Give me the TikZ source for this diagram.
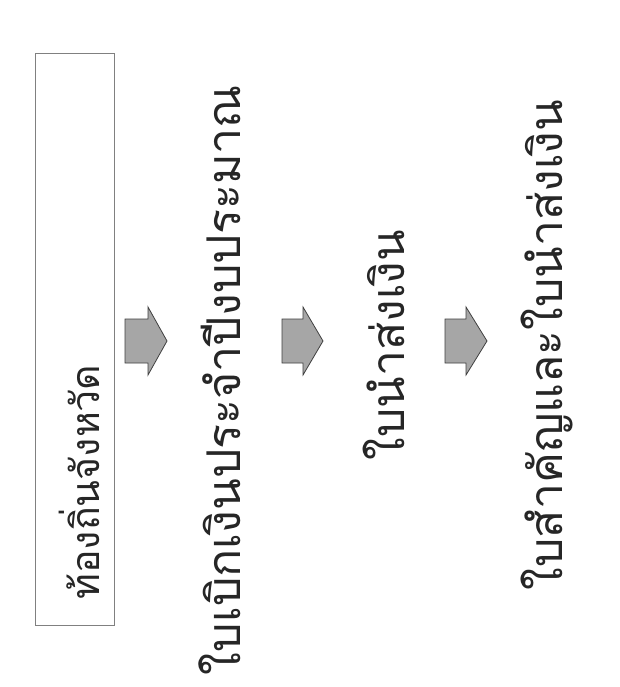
\documentclass[tikz,border=0pt]{standalone}
\usepackage{fontspec}
\newfontfamily\thaifont[Script=Thai]{Loma}
\newlength\thaiw
\newcommand{\fitthai}[2]{%
  \settowidth{\thaiw}{\thaifont\fontsize{10}{12}\selectfont #2}%
  \pgfmathsetmacro{\thaisz}{10*#1/\thaiw}%
  {\thaifont\fontsize{\thaisz pt}{\thaisz pt}\selectfont #2}}
\begin{document}
\begin{tikzpicture}[x=1pt,y=-1pt,
  thaitxt/.style={rotate=90,inner sep=0pt,text=black!85},
  arrowfill/.style={draw=black!75,fill=black!35,line width=0.8pt,line join=miter},
  boxstyle/.style={draw=black!50,line width=0.6pt}]
\useasboundingbox (0,0) rectangle (619,687);
\fill[white] (0,0) rectangle (619,687);
\draw[boxstyle] (35,53) rectangle (114,625);
\node[thaitxt] (t1) at (79,482) {\fitthai{235}{ท้องถิ่นจังหวัด}};
\node[thaitxt] (t2) at (220,380) {\fitthai{590}{ใบเบิกเงินประจำปีงบประมาณ}};
\node[thaitxt] (t3) at (384,345) {\fitthai{230}{ใบนำส่งเงิน}};
\node[thaitxt] (t4) at (547,345) {\fitthai{490}{ใบสำคัญและใบนำส่งเงิน}};
% block arrows
\foreach \n/\xa/\xb/\xc in {a1/125/148/167, a2/282/303/323, a3/445/466/487}{
  \coordinate (\n) at (\xa,341);
  \draw[arrowfill] (\xa,319) -- (\xb,319) -- (\xb,307) -- (\xc,341) -- (\xb,375) -- (\xb,363) -- (\xa,363) -- cycle;
}
\end{tikzpicture}
\end{document}
